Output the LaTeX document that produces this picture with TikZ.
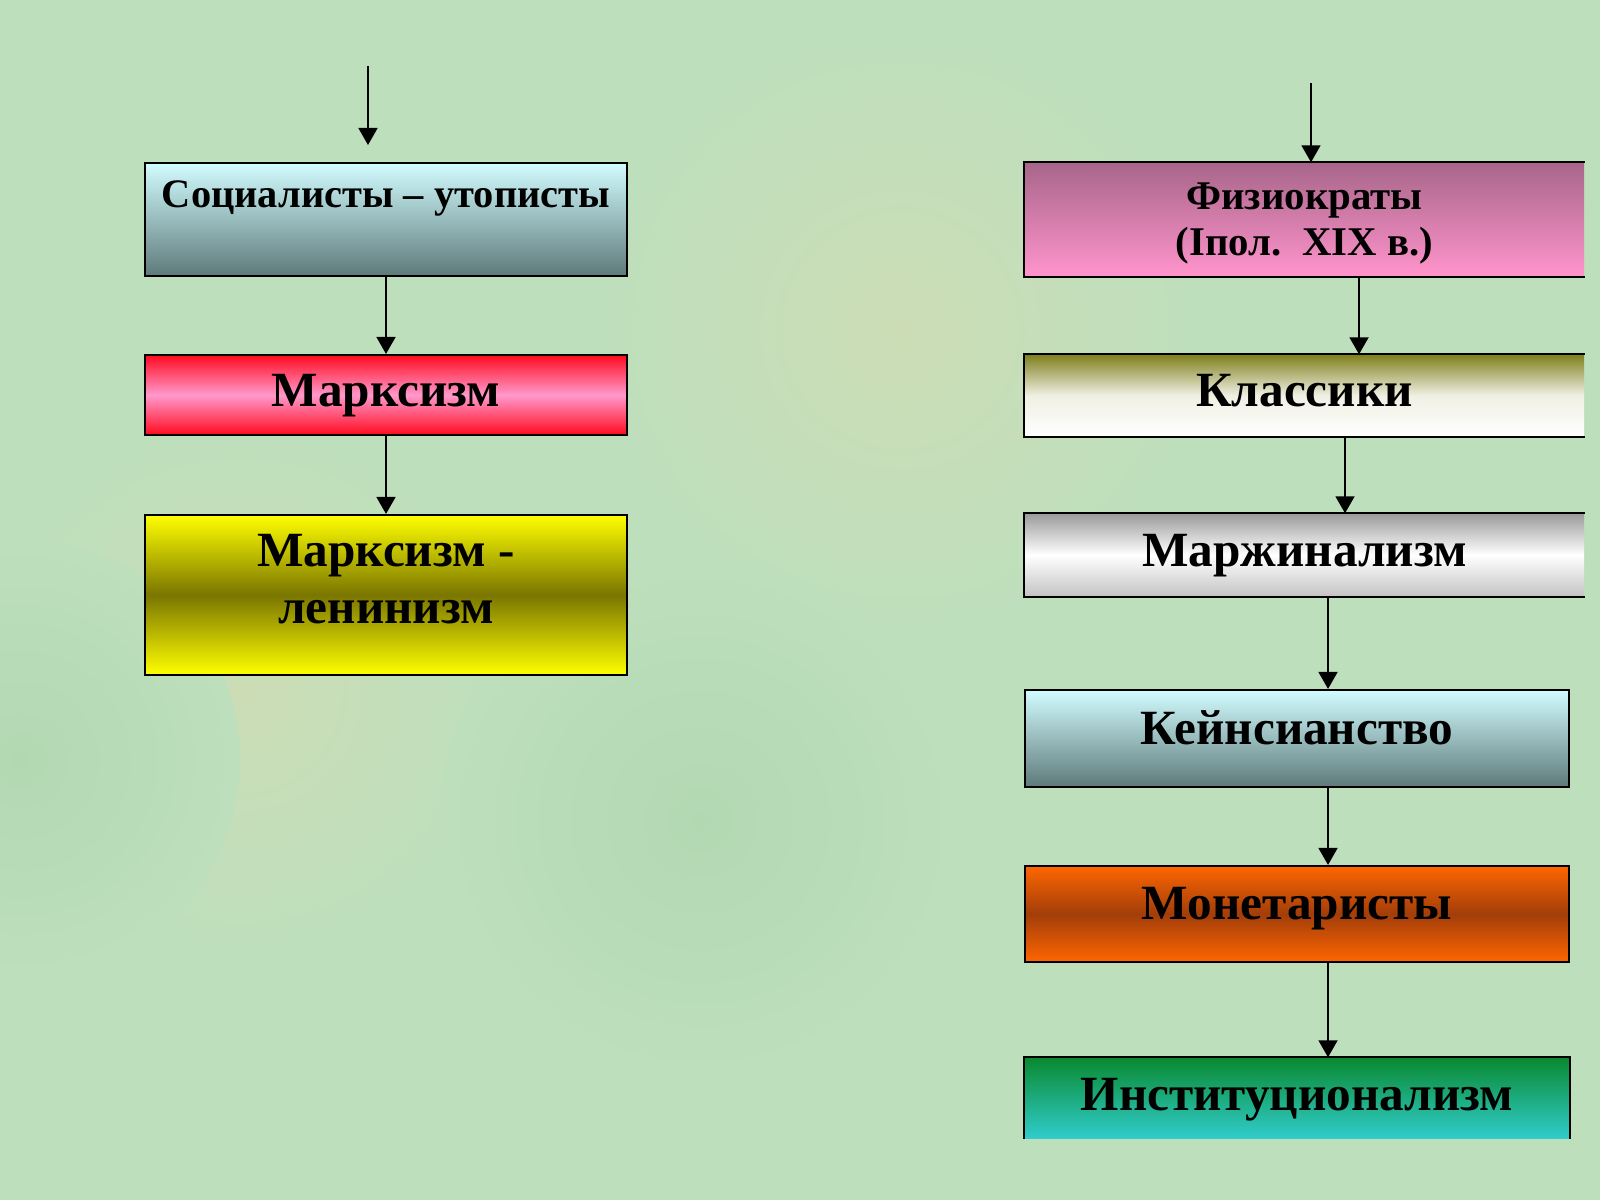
\documentclass[tikz,border=0pt]{standalone}
\usepackage{fontspec}
\setmainfont{Liberation Serif}
\usetikzlibrary{arrows.meta}
\definecolor{bggreen}{HTML}{BEDFBC}
\definecolor{bgpeach}{HTML}{CCDDB6}
\definecolor{bgdark}{HTML}{B2D8B2}
\definecolor{steeltop}{HTML}{D2FCFF}
\definecolor{steelbot}{HTML}{5E7A7A}
\definecolor{marxred}{HTML}{FF0A1E}
\definecolor{marxpink}{HTML}{FF99CC}
\definecolor{leninyel}{HTML}{FFFF00}
\definecolor{leninolive}{HTML}{7A7600}
\definecolor{fiztop}{HTML}{A8668A}
\definecolor{fizbot}{HTML}{FF94CC}
\definecolor{klasstop}{HTML}{80801E}
\definecolor{margtop}{HTML}{9C9C9C}
\definecolor{margbot}{HTML}{C4C4C4}
\definecolor{monetorange}{HTML}{FF6600}
\definecolor{monetbrown}{HTML}{A23E0A}
\definecolor{insttop}{HTML}{0A8A30}
\definecolor{instbot}{HTML}{30CCCC}
\begin{document}
\begin{tikzpicture}[x=0.01cm,y=-0.01cm]
        \tikzstyle{box_style} = [rectangle,draw=black,line width=0.6pt,inner sep=0pt,minimum width=4.82cm,text height=0.35cm,font=\fontsize{14}{16}\selectfont\bfseries]
        \tikzstyle{open_style} = [rectangle,inner sep=0pt,minimum width=5.59cm,text height=0.35cm,font=\fontsize{14}{16}\selectfont\bfseries]
        \tikzstyle{side_style} = [draw=black,line width=0.6pt]
        \tikzstyle{edge_style} = [draw=black,line width=0.5pt,-{Triangle[length=0.17cm,width=0.19cm]}]
        \useasboundingbox (0,0) rectangle (1600,1200);
        % background
        \begin{scope}
          \clip (0,0) rectangle (1600,1200);
          \fill[bggreen] (0,0) rectangle (1600,1200);
          \shade[inner color=bgpeach,outer color=bggreen] (240,690) circle (260);
          \shade[inner color=bgdark,outer color=bggreen] (20,760) circle (220);
          \shade[inner color=bgpeach,outer color=bggreen] (900,330) circle (300);
          \shade[inner color=bgdark,outer color=bggreen] (700,820) circle (260);
        \end{scope}
        % left column
        \node[box_style,top color=steeltop,bottom color=steelbot,minimum height=1.13cm,text depth=0.58cm,font=\fontsize{11.5}{13}\selectfont\bfseries] (soc) at (386,219.5) {Социалисты – утописты};
        \node[box_style,top color=marxred,bottom color=marxred,middle color=marxpink,minimum height=0.80cm,text depth=0.13cm] (marx) at (386,395) {Марксизм};
        \node[box_style,top color=leninyel,bottom color=leninyel,middle color=leninolive,minimum height=1.60cm,text height=0.9cm,text depth=0.34cm,align=center] (lenin) at (386,595) {Марксизм -\\ленинизм};
        \coordinate (s0) at (368,66);
        \coordinate (s1) at (368,145);
        \draw[edge_style] (s0) -- (s1);
        \draw[edge_style] (soc) -- (marx);
        \draw[edge_style] (marx) -- (lenin);
        % right column
        \node[open_style,top color=fiztop,bottom color=fizbot,minimum height=1.13cm,text height=0.75cm,text depth=0.04cm,align=center,font=\fontsize{11.6}{13}\selectfont\bfseries] (fiz) at (1304.5,219.5) {Физиократы\\(Iпол.~~XIX в.)};
        \node[open_style,top color=klasstop,bottom color=white,middle color=white!88!klasstop,minimum height=0.81cm,text depth=0.14cm] (klass) at (1304.5,395.5) {Классики};
        \node[open_style,top color=margtop,bottom color=margbot,middle color=white,minimum height=0.82cm,text depth=0.13cm] (marg) at (1304.5,555) {Маржинализм};
        \node[box_style,top color=steeltop,bottom color=steelbot,minimum width=5.44cm,minimum height=0.97cm,text depth=0.24cm] (keyn) at (1297,738.5) {Кейнсианство};
        \node[box_style,top color=monetorange,bottom color=monetorange,middle color=monetbrown,minimum width=5.44cm,minimum height=0.96cm,text depth=0.25cm] (monet) at (1297,914) {Монетаристы};
        \node[open_style,top color=insttop,bottom color=instbot,middle color=insttop!50!instbot,minimum width=5.44cm,minimum height=0.80cm,text depth=0.11cm] (inst) at (1297,1098) {Институционализм};
        \draw[side_style] (fiz.north east) -- (fiz.north west) -- (fiz.south west) -- (fiz.south east);
        \draw[side_style] (klass.north east) -- (klass.north west) -- (klass.south west) -- (klass.south east);
        \draw[side_style] (marg.north east) -- (marg.north west) -- (marg.south west) -- (marg.south east);
        \draw[side_style] (inst.south west) -- (inst.north west) -- (inst.north east) -- (inst.south east);
        \coordinate (f0) at (1311,83);
        \draw[edge_style] (f0) -- (f0 |- fiz.north);
        \draw[edge_style] ([xshift=0.545cm]fiz.south) -- ([xshift=0.545cm]klass.north);
        \draw[edge_style] ([xshift=0.405cm]klass.south) -- ([xshift=0.405cm]marg.north);
        \draw[edge_style] ([xshift=0.235cm]marg.south) -- ([xshift=0.31cm]keyn.north);
        \draw[edge_style] ([xshift=0.31cm]keyn.south) -- ([xshift=0.31cm]monet.north);
        \draw[edge_style] ([xshift=0.31cm]monet.south) -- ([xshift=0.31cm]inst.north);
      \end{tikzpicture}
\end{document}
